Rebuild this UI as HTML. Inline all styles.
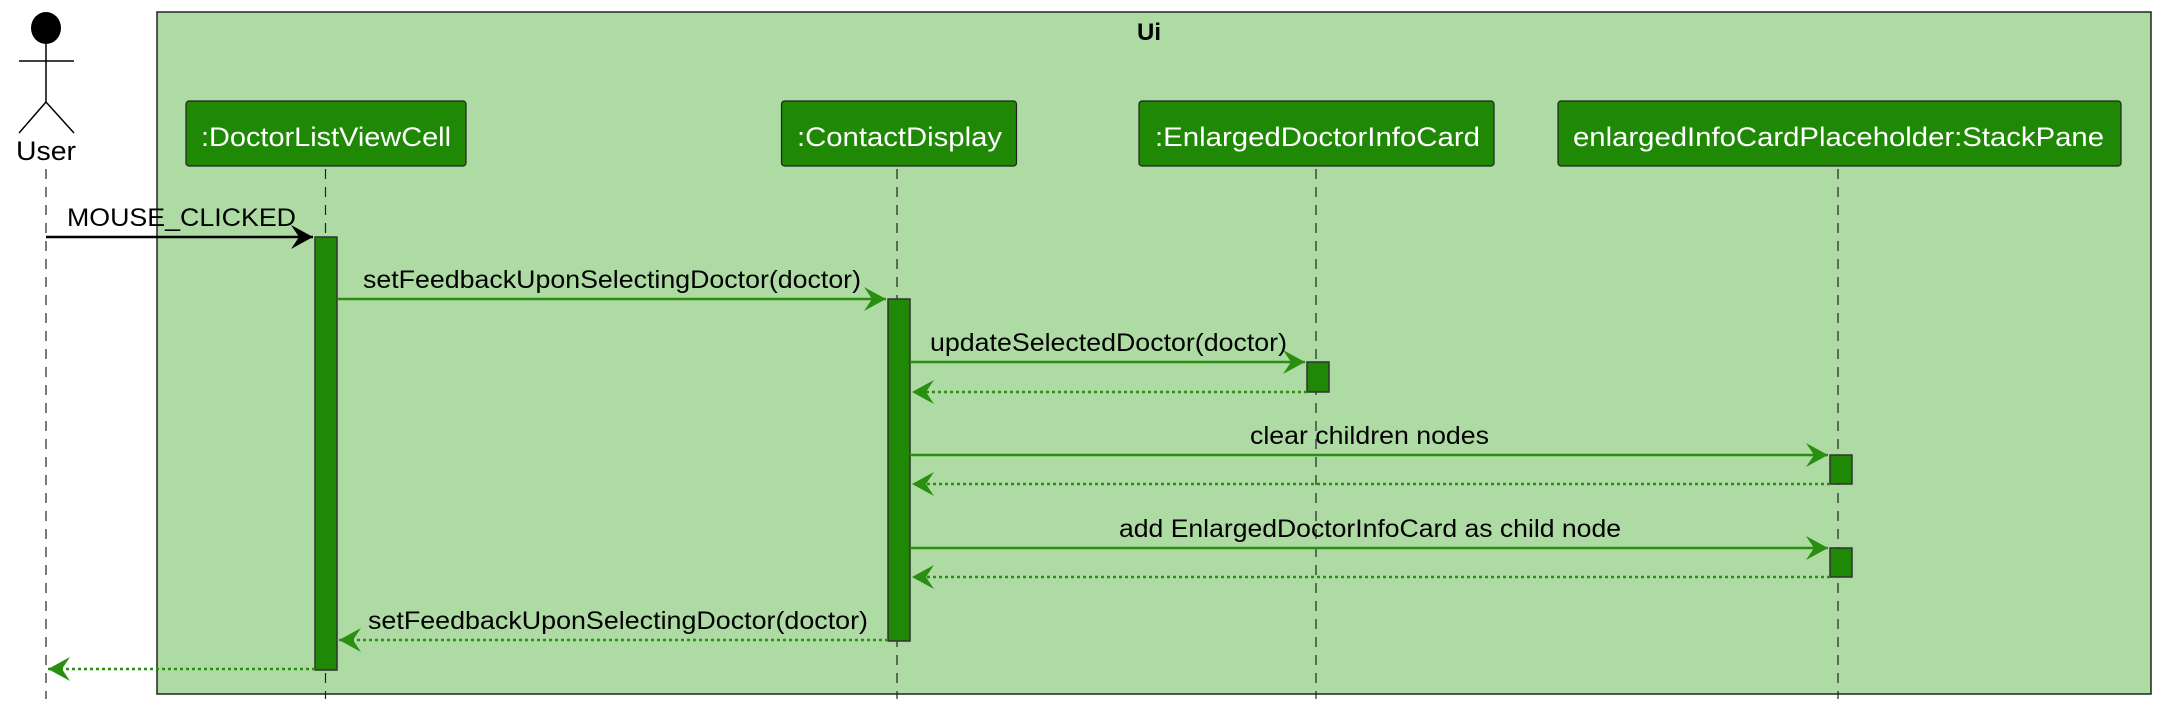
<!DOCTYPE html>
<html><head><meta charset="utf-8"><style>html,body{margin:0;padding:0;background:#fff}svg{display:block}</style></head>
<body>
<svg width="2162" height="719" viewBox="0 0 2162 719" xmlns="http://www.w3.org/2000/svg" font-family="'Liberation Sans', sans-serif">
<defs>
<marker id="ah" markerWidth="24" markerHeight="24" refX="22" refY="12" orient="auto" markerUnits="userSpaceOnUse"><path d="M0,0 L22,12 L0,24 L8,12 Z" fill="#2a8f10"/></marker>
<marker id="ahb" markerWidth="24" markerHeight="24" refX="22" refY="12" orient="auto" markerUnits="userSpaceOnUse"><path d="M0,0 L22,12 L0,24 L8,12 Z" fill="#000"/></marker>
</defs>
<rect x="157" y="12" width="1994" height="682" fill="#aedba3" stroke="#222" stroke-width="1.5"/>
<text x="1149" y="40" font-size="24" font-weight="bold" text-anchor="middle">Ui</text>
<ellipse cx="46" cy="28" rx="15" ry="16" fill="#000"/>
<line x1="46" y1="44" x2="46" y2="102" stroke="#000" stroke-width="1.5"/>
<line x1="19" y1="61" x2="74" y2="61" stroke="#000" stroke-width="1.5"/>
<line x1="46" y1="102" x2="19" y2="133" stroke="#000" stroke-width="1.5"/>
<line x1="46" y1="102" x2="74" y2="133" stroke="#000" stroke-width="1.5"/>
<text x="46" y="160" font-size="27" text-anchor="middle" textLength="60" lengthAdjust="spacingAndGlyphs">User</text>
<g stroke="#222" stroke-width="1.2" stroke-dasharray="10,8">
<line x1="46" y1="169" x2="46" y2="699"/>
<line x1="325.5" y1="169" x2="325.5" y2="699"/>
<line x1="897" y1="169" x2="897" y2="699"/>
<line x1="1316" y1="169" x2="1316" y2="699"/>
<line x1="1838" y1="169" x2="1838" y2="699"/>
</g>
<g fill="#1f8805" stroke="#222" stroke-width="1.2">
<rect x="186" y="101" width="280" height="65" rx="3"/>
<rect x="781.5" y="101" width="235" height="65" rx="3"/>
<rect x="1139" y="101" width="355" height="65" rx="3"/>
<rect x="1558" y="101" width="563" height="65" rx="3"/>
</g>
<g fill="#fff" font-size="27">
<text x="201" y="146" textLength="250" lengthAdjust="spacingAndGlyphs">:DoctorListViewCell</text>
<text x="797" y="146" textLength="205" lengthAdjust="spacingAndGlyphs">:ContactDisplay</text>
<text x="1155" y="146" textLength="325" lengthAdjust="spacingAndGlyphs">:EnlargedDoctorInfoCard</text>
<text x="1573" y="146" textLength="531" lengthAdjust="spacingAndGlyphs">enlargedInfoCardPlaceholder:StackPane</text>
</g>
<g fill="#1f8805" stroke="#333" stroke-width="1.5">
<rect x="315" y="237" width="22" height="433"/>
<rect x="888" y="299" width="22" height="342"/>
<rect x="1307" y="362" width="22" height="30"/>
<rect x="1830" y="455" width="22" height="29"/>
<rect x="1830" y="548" width="22" height="29"/>
</g>
<line x1="46" y1="237" x2="313" y2="237" stroke="#000" stroke-width="2.5" marker-end="url(#ahb)"/>
<g stroke="#2a8f10" stroke-width="2.5" fill="none">
<line x1="337" y1="299" x2="886" y2="299" marker-end="url(#ah)"/>
<line x1="910" y1="362" x2="1305" y2="362" marker-end="url(#ah)"/>
<line x1="910" y1="455" x2="1828" y2="455" marker-end="url(#ah)"/>
<line x1="910" y1="548" x2="1828" y2="548" marker-end="url(#ah)"/>
<g stroke-dasharray="3,3">
<line x1="1307" y1="392" x2="912" y2="392" marker-end="url(#ah)"/>
<line x1="1830" y1="484" x2="912" y2="484" marker-end="url(#ah)"/>
<line x1="1830" y1="577" x2="912" y2="577" marker-end="url(#ah)"/>
<line x1="888" y1="640" x2="339" y2="640" marker-end="url(#ah)"/>
<line x1="315" y1="669" x2="48" y2="669" marker-end="url(#ah)"/>
</g>
</g>
<g fill="#000" font-size="25">
<text x="67" y="226" textLength="229" lengthAdjust="spacingAndGlyphs">MOUSE_CLICKED</text>
<text x="363" y="288" textLength="498" lengthAdjust="spacingAndGlyphs">setFeedbackUponSelectingDoctor(doctor)</text>
<text x="930" y="351" textLength="357" lengthAdjust="spacingAndGlyphs">updateSelectedDoctor(doctor)</text>
<text x="1250" y="444" textLength="239" lengthAdjust="spacingAndGlyphs">clear children nodes</text>
<text x="1119" y="537" textLength="502" lengthAdjust="spacingAndGlyphs">add EnlargedDoctorInfoCard as child node</text>
<text x="368" y="629" textLength="500" lengthAdjust="spacingAndGlyphs">setFeedbackUponSelectingDoctor(doctor)</text>
</g>
</svg>
</body></html>
